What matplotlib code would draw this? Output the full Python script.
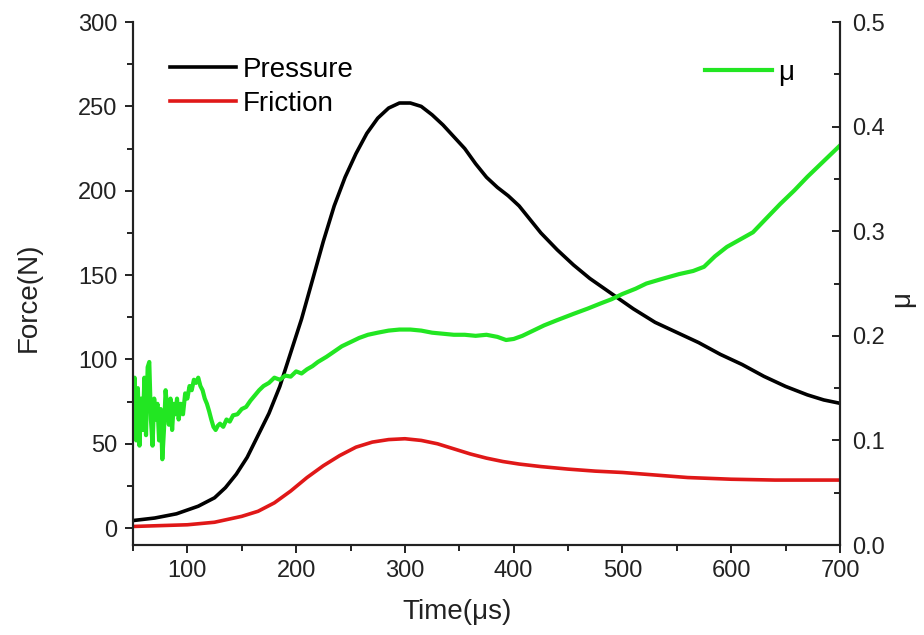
import matplotlib
matplotlib.use("Agg")
import matplotlib.pyplot as plt
from matplotlib.ticker import MultipleLocator, FormatStrFormatter

plt.rcParams['font.family'] = ['Liberation Sans', 'DejaVu Sans']

# values
t_pressure = [50, 70, 90, 110, 125, 135, 145, 155, 165, 175, 185, 195, 205, 215,
              225, 235, 245, 255, 265, 275, 285, 295, 305, 315, 325, 335, 345,
              355, 365, 375, 385, 395, 405, 415, 425, 440, 455, 470, 490, 510,
              530, 550, 570, 590, 610, 630, 650, 670, 685, 700]
pressure = [4.5, 6, 8.5, 13, 18, 24, 32, 42, 55, 68, 84, 104, 124, 147,
            170, 191, 208, 222, 234, 243, 249, 252, 252, 250, 245, 239, 232,
            225, 216, 208, 202, 197, 191, 183, 175, 165, 156, 148, 139, 130,
            122, 116, 110, 103, 97, 90, 84, 79, 76, 74]

t_friction = [50, 75, 100, 125, 150, 165, 180, 195, 210, 225, 240, 255, 270,
              285, 300, 315, 330, 345, 360, 375, 390, 405, 425, 450, 475, 500,
              530, 560, 600, 640, 670, 700]
friction = [1, 1.5, 2, 3.5, 7, 10, 15, 22, 30, 37, 43, 48, 51,
            52.5, 53, 52, 50, 47, 44, 41.5, 39.5, 38, 36.5, 35, 33.8, 33,
            31.5, 30, 29, 28.5, 28.5, 28.5]

t_mu = [50, 51.5, 53, 54.5, 56, 57.5, 59, 60.5, 62, 63.5, 65, 66.5, 68, 69.5,
        71, 72.5, 74, 75.5, 77, 78.5, 80, 81.5, 83, 84.5, 86, 87.5, 89, 90.5,
        92, 94, 96, 98, 100, 102, 104, 106, 108, 110, 112, 114, 116, 118, 120,
        122, 124, 126, 128, 130, 133, 136, 139, 142, 146, 150, 154, 158, 162,
        166, 170, 175, 180, 185, 190, 195, 200, 205, 210, 215, 220, 228, 235,
        242, 250, 258, 266, 275, 285, 295, 305, 315, 325, 335, 345, 355, 365,
        375, 385, 393, 400, 408, 418, 428, 440, 455, 468, 480, 490, 500, 512,
        522, 535, 552, 565, 575, 585, 596, 608, 620, 632, 645, 658, 670, 685,
        700]
mu = [0.12, 0.16, 0.10, 0.15, 0.095, 0.14, 0.11, 0.16, 0.105, 0.17, 0.175,
      0.12, 0.095, 0.14, 0.12, 0.135, 0.10, 0.13, 0.082, 0.11, 0.148, 0.13,
      0.115, 0.14, 0.11, 0.135, 0.125, 0.14, 0.12, 0.135, 0.125, 0.145, 0.14,
      0.152, 0.148, 0.158, 0.155, 0.16, 0.152, 0.148, 0.14, 0.135, 0.128,
      0.12, 0.113, 0.110, 0.114, 0.116, 0.113, 0.12, 0.118, 0.124, 0.125,
      0.13, 0.132, 0.138, 0.143, 0.148, 0.152, 0.155, 0.16, 0.158, 0.162,
      0.161, 0.166, 0.164, 0.168, 0.171, 0.175, 0.18, 0.185, 0.19, 0.194,
      0.198, 0.201, 0.203, 0.205, 0.206, 0.206, 0.205, 0.203, 0.202, 0.201,
      0.201, 0.2, 0.201, 0.199, 0.196, 0.197, 0.2, 0.205, 0.21, 0.215, 0.221,
      0.226, 0.231, 0.235, 0.24, 0.245, 0.25, 0.254, 0.259, 0.262, 0.266,
      0.276, 0.285, 0.292, 0.299, 0.312, 0.326, 0.339, 0.352, 0.367, 0.382]

fig = plt.figure(figsize=(9.24, 6.35), dpi=100)
ax = fig.add_axes([0.1439, 0.1417, 0.7652, 0.8236])
ax2 = ax.twinx()

l1, = ax.plot(t_pressure, pressure, color="black", lw=2.6, label="Pressure")
l2, = ax.plot(t_friction, friction, color="#e01818", lw=2.6, label="Friction")
l3, = ax2.plot(t_mu, mu, color="#22e622", lw=3, label="μ")

ax.set_xlim(50, 700)
ax.set_ylim(-10, 300)
ax2.set_ylim(0, 0.5)

ax.xaxis.set_major_locator(MultipleLocator(100))
ax.xaxis.set_minor_locator(MultipleLocator(50))
ax.yaxis.set_major_locator(MultipleLocator(50))
ax.yaxis.set_minor_locator(MultipleLocator(25))
ax2.yaxis.set_major_locator(MultipleLocator(0.1))
ax2.yaxis.set_minor_locator(MultipleLocator(0.05))
ax2.yaxis.set_major_formatter(FormatStrFormatter('%.1f'))

for a in (ax, ax2):
    a.spines['top'].set_visible(False)
    for s in a.spines.values():
        s.set_linewidth(1.5)
        s.set_color("#222222")

ax.tick_params(axis='both', which='major', direction='out', length=6, width=1.4,
               labelsize=17, colors="#222222", pad=5)
ax.tick_params(axis='both', which='minor', direction='out', length=4, width=1.4,
               colors="#222222")
ax2.tick_params(axis='y', which='major', direction='in', length=6, width=1.4,
                labelsize=17, colors="#222222", pad=9)
ax2.tick_params(axis='y', which='minor', direction='in', length=4, width=1.4,
                colors="#222222")

ax.set_xlabel("Time(μs)", fontsize=20, color="#222222")
ax.xaxis.set_label_coords(0.458, -0.103)
ax.set_ylabel("Force(N)", fontsize=20, color="#222222")
ax.yaxis.set_label_coords(-0.129, 0.474)
ax2.set_ylabel("μ", fontsize=20, color="#222222")
ax2.yaxis.set_label_coords(1.07, 0.47)

ax.legend(handles=[l1, l2], loc="upper left", bbox_to_anchor=(0.052, 0.933),
          frameon=False, fontsize=20, handlelength=2.4, handletextpad=0.22,
          labelspacing=0.28, borderpad=0, borderaxespad=0)
ax2.legend(handles=[l3], loc="upper left", bbox_to_anchor=(0.809, 0.927),
           frameon=False, fontsize=20, handlelength=2.4, handletextpad=0.22,
           borderpad=0, borderaxespad=0)

fig.savefig("out.png", dpi=100)
